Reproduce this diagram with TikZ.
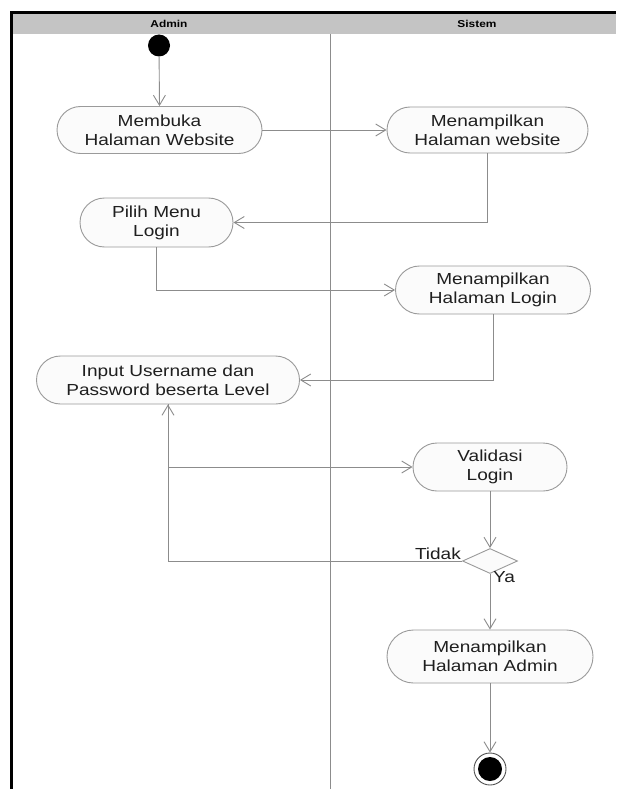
\documentclass[tikz,border=0pt]{standalone}
\usepackage{fontspec}
\usetikzlibrary{arrows.meta,shapes.geometric,shapes.misc}
\newfontfamily\nodefont{Liberation Sans}[FakeStretch=1.19]
\definecolor{linegray}{HTML}{8C8C8C}
\definecolor{boxgray}{HTML}{9A9A9A}
\definecolor{boxfill}{HTML}{FBFBFB}
\definecolor{headgray}{HTML}{C4C4C4}
\definecolor{ringgray}{HTML}{505050}
\tikzset{
  actbox/.style={draw=boxgray, fill=boxfill, line width=0.9pt, rounded rectangle,
    align=center, inner sep=0pt, text=black!88, font=\nodefont\fontsize{16}{19}\selectfont},
  flow/.style={draw=linegray, line width=0.9pt, -{Straight Barb[length=10pt,width=12pt]}},
  lbl/.style={font=\nodefont\fontsize{16}{19}\selectfont, text=black!88, inner sep=0pt},
  headtxt/.style={font=\nodefont\bfseries\fontsize{10}{12}\selectfont, inner sep=0pt}
}
\begin{document}
\begin{tikzpicture}[x=1pt,y=-1pt]
\useasboundingbox (0,0) rectangle (616,789);
\fill[white] (0,0) rectangle (616,789);
% swimlane header and frame
\fill[headgray] (11,13) rectangle (616,34);
\draw[black, line width=2.6pt] (11.3,789) -- (11.3,12.5) -- (616,12.5);
\draw[linegray, line width=0.8pt] (330,34) -- (330,789);
\node[headtxt] (hadmin) at (169,24) {Admin};
\node[headtxt] (hsistem) at (477,24) {Sistem};

% start and end
\node[circle, fill=black, minimum size=22pt, inner sep=0pt] (start) at (159,45.5) {};
\node[circle, draw=ringgray, line width=0.9pt, minimum size=32pt, inner sep=0pt] (end) at (490,769) {};
\fill[black] (end.center) circle (12pt);

% activities
\node[actbox, minimum width=205pt, minimum height=47pt] (n1) at (159.5,130) {Membuka\\Halaman Website};
\node[actbox, minimum width=201pt, minimum height=46pt] (n2) at (487.5,130) {Menampilkan\\Halaman website};
\node[actbox, minimum width=153pt, minimum height=49pt] (n3) at (156.5,222.5) {Pilih Menu\\Login};
\node[actbox, minimum width=195pt, minimum height=48pt] (n4) at (493,290) {Menampilkan\\Halaman Login};
\node[actbox, minimum width=263pt, minimum height=48pt] (n5) at (168,380) {Input Username dan\\Password beserta Level};
\node[actbox, minimum width=154pt, minimum height=48pt] (n6) at (490,467) {Validasi\\Login};
\node[diamond, draw=boxgray, fill=boxfill, line width=0.9pt, minimum width=55pt, minimum height=25pt, inner sep=0pt] (dec) at (490,561) {};
\node[actbox, minimum width=206pt, minimum height=53pt] (n7) at (490,656.5) {Menampilkan\\Halaman Admin};

% connectors
\draw[flow] (start) -- (n1.north);
\draw[flow] (n1.east) -- (n2.west);
\draw[flow] (n2.south) |- (n3.east);
\draw[flow] (n3.south) |- (n4.west);
\draw[flow] (n4.south) |- (n5.east);
\draw[flow] (n5.south) |- (n6.west);
\draw[flow] (n6.south) -- (dec.north);
\draw[flow] (dec.west) -| (n5.south);
\draw[flow] (dec.south) -- (n7.north);
\draw[flow] (n7.south) -- (end.north);

% guard labels
\node[lbl, anchor=south east] (tidak) at ([xshift=-1pt,yshift=1pt]dec.west) {Tidak};
\node[lbl, anchor=north west] (ya) at ([xshift=3pt,yshift=3pt]dec.south) {Ya};
\end{tikzpicture}
\end{document}
